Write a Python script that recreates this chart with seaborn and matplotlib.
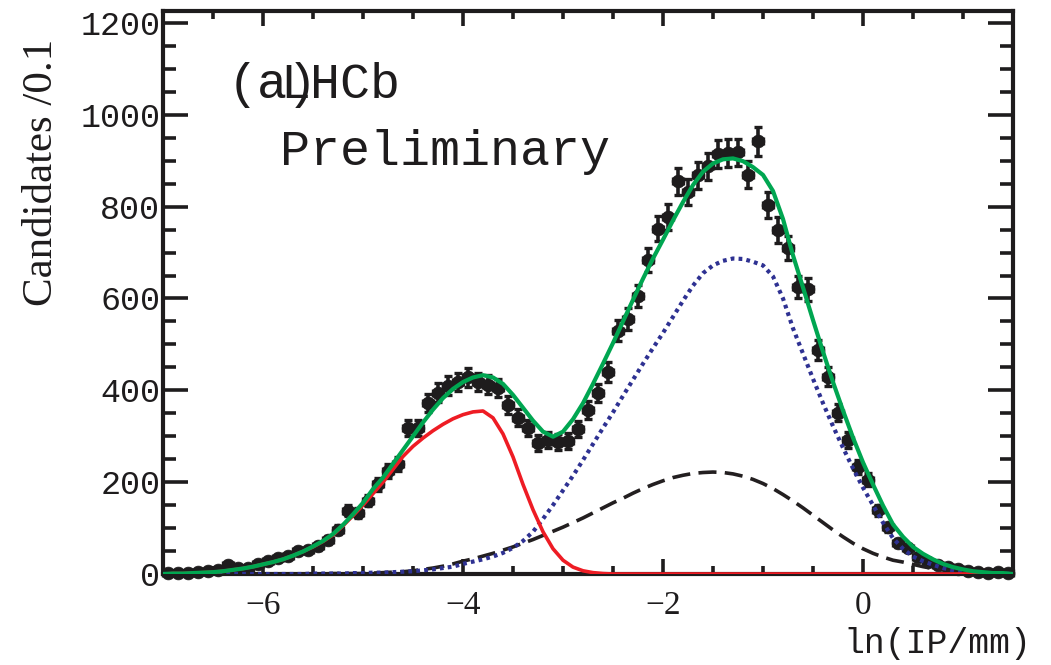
import numpy as np
import pandas as pd
import seaborn as sns
import matplotlib.pyplot as plt
from matplotlib.ticker import MultipleLocator

# ---- data: ln(IP/mm) histogram, bins of width 0.1 from -7.0 to 1.5 ----
bin_lo, bin_hi, bin_w = -7.0, 1.5, 0.1
counts = [
    2, 3, 2, 4, 6, 9, 20, 12, 14, 22,            # -6.95 .. -6.05
    28, 35, 40, 50, 52, 60, 74, 96, 138, 133,     # -5.95 .. -5.05
    160, 195, 225, 240, 318, 318, 372, 395, 410, 418,  # -4.95 .. -4.05
    428, 418, 412, 405, 368, 340, 318, 285, 292, 287,  # -3.95 .. -3.05
    290, 315, 357, 394, 440, 530, 555, 605, 684, 752,  # -2.95 .. -2.05
    778, 855, 832, 868, 888, 915, 917, 918, 869, 942,  # -1.95 .. -1.05
    804, 749, 710, 625, 620, 488, 430, 351, 292, 233,  # -0.95 .. -0.05
    205, 139, 102, 67, 57, 37, 26, 20, 15, 10,    # 0.05 .. 0.95
    6, 5, 3, 4, 3,                                # 1.05 .. 1.45
]

# ---- fit components sampled every 0.1 from -7.0 to 1.5 ----
prompt_fit = [
    0, 1, 1, 2, 3, 4, 6, 9, 12, 16,
    21, 26, 32, 40, 49, 59, 71, 85, 105, 127,
    150, 175, 200, 228, 256, 278, 296, 312, 326, 338,
    347, 353, 355, 340, 305, 255, 195, 140, 92, 55,
    30, 15, 7, 3, 1, 0, 0, 0, 0, 0,
    0, 0, 0, 0, 0, 0, 0, 0, 0, 0,
    0, 0, 0, 0, 0, 0, 0, 0, 0, 0,
    0, 0, 0, 0, 0, 0, 0, 0, 0, 0,
    0, 0, 0, 0, 0, 0,
]
secondary_fit = [
    0, 0, 0, 0, 0, 0, 0, 0, 0, 0,
    0, 0, 0, 0, 0, 0, 0, 1, 1, 1,
    1, 2, 3, 4, 5, 7, 10, 13, 17, 22,
    28, 33, 39, 45, 52, 59, 67, 75, 84, 93,
    102, 112, 122, 133, 144, 155, 165, 176, 186, 195,
    203, 210, 215, 219, 221, 222, 221, 218, 213, 206,
    197, 186, 173, 159, 144, 128, 112, 96, 81, 67,
    55, 45, 37, 30, 26, 21, 16, 12, 9, 7,
    5, 3, 2, 1, 1, 0,
]
detached_fit = [
    0, 0, 0, 0, 0, 0, 0, 0, 0, 0,
    0, 0, 0, 0, 0, 1, 1, 1, 1, 2,
    2, 3, 3, 4, 5, 6, 8, 10, 13, 16,
    22, 27, 32, 38, 46, 57, 72, 92, 120, 150,
    182, 214, 248, 283, 318, 352, 388, 423, 458, 492,
    525, 560, 595, 628, 655, 672, 682, 687, 686, 680,
    672, 648, 600, 535, 480, 425, 372, 322, 275, 230,
    188, 150, 112, 78, 55, 38, 28, 20, 13, 8,
    5, 3, 2, 1, 1, 0,
]
total_fit = [
    0, 1, 1, 2, 3, 4, 6, 9, 12, 16,
    21, 26, 32, 40, 49, 60, 72, 87, 107, 130,
    155, 185, 210, 240, 270, 300, 330, 358, 383, 403,
    418, 428, 433, 428, 414, 390, 362, 334, 310, 299,
    310, 337, 372, 414, 458, 503, 550, 597, 643, 687,
    728, 770, 810, 847, 876, 894, 903, 905, 899, 886,
    869, 834, 773, 694, 624, 553, 484, 418, 356, 297,
    243, 195, 149, 108, 81, 59, 44, 32, 22, 15,
    10, 6, 4, 2, 2, 0,
]

centres = np.arange(len(counts)) * bin_w + bin_lo + bin_w / 2
data = pd.DataFrame({"lnip": centres, "n": counts})
data["err"] = np.sqrt(data["n"])

grid = np.round(np.arange(len(total_fit)) * bin_w + bin_lo, 2)
fits = pd.DataFrame({
    "lnip": grid,
    "prompt": prompt_fit,
    "secondary": secondary_fit,
    "detached": detached_fit,
    "total": total_fit,
})

# ---- figure ----
sns.set_theme(style="ticks")
plt.rcParams["font.family"] = ["Liberation Serif", "DejaVu Sans"]
plt.rcParams["axes.unicode_minus"] = True

W, H = 1051, 665
fig = plt.figure(figsize=(W / 100, H / 100), dpi=100)
ax = fig.add_axes([163 / W, 1 - 574 / H, 850 / W, 563 / H])

ink = "#1e1c1d"

# data points with Poisson errors and bin-width bars
ax.errorbar(data["lnip"], data["n"], yerr=data["err"], xerr=bin_w / 2,
            fmt="none", ecolor=ink, elinewidth=2.6, capsize=2.8,
            capthick=2.4, zorder=3, clip_on=False)
sns.scatterplot(data=data, x="lnip", y="n", ax=ax, color=ink, s=85,
                marker="o", edgecolor=ink, linewidth=0.5, zorder=4,
                clip_on=False, legend=False)

# fit components
sns.lineplot(data=fits, x="lnip", y="secondary", ax=ax, color="#231f20",
             lw=2.6, linestyle=(0, (5, 2.3)), zorder=5)
sns.lineplot(data=fits, x="lnip", y="detached", ax=ax, color="#2e3192",
             lw=3.0, linestyle=(0, (0.9, 1.0)), zorder=5)
sns.lineplot(data=fits, x="lnip", y="prompt", ax=ax, color="#ee1c24",
             lw=2.6, zorder=6)
sns.lineplot(data=fits, x="lnip", y="total", ax=ax, color="#00a651",
             lw=3.0, zorder=7)

ax.set_xlim(-7.0, 1.5)
ax.set_ylim(0, 1226)
ax.set_xlabel("")
ax.set_ylabel("")

ax.xaxis.set_major_locator(MultipleLocator(2))
ax.xaxis.set_minor_locator(MultipleLocator(0.5))
ax.yaxis.set_major_locator(MultipleLocator(200))
ax.yaxis.set_minor_locator(MultipleLocator(50))

for side in ax.spines.values():
    side.set_linewidth(3.0)
    side.set_color(ink)
    side.set_visible(True)

ax.tick_params(axis="x", which="major", direction="in", length=11, width=2.6,
               top=True, bottom=True, pad=12, color=ink, labelsize=24,
               labelcolor=ink)
ax.tick_params(axis="x", which="minor", direction="in", length=6, width=2.6,
               top=True, bottom=True, color=ink)
ax.tick_params(axis="y", which="major", direction="in", length=18, width=2.6,
               left=True, right=True, pad=2, color=ink, labelsize=24,
               labelcolor=ink)
ax.tick_params(axis="y", which="minor", direction="in", length=9.5, width=2.6,
               left=True, right=True, color=ink)

for lab in ax.get_yticklabels():
    lab.set_family("Liberation Mono")
for lab in ax.get_xticklabels():
    lab.set_family("Liberation Serif")

# annotations
mono = "Liberation Mono"
fig.text(228 / W, 1 - 98 / H, "(a)", family=mono, size=36, color=ink, va="baseline")
fig.text(280 / W, 1 - 98 / H, "LHCb", family=mono, size=36, color=ink, va="baseline")
fig.text(280 / W, 1 - 165 / H, "Preliminary", family=mono, size=36, color=ink, va="baseline")

fig.text(1031 / W, 1 - 653 / H, "ln(IP/mm)", family=mono, size=25, color=ink,
         ha="right", va="baseline")
fig.text(42 / W, 1 - 172 / H, "Candidates /0.1", family="Liberation Serif",
         size=31, color=ink, rotation=90, ha="center", va="center")

fig.savefig("out.png", dpi=100)
